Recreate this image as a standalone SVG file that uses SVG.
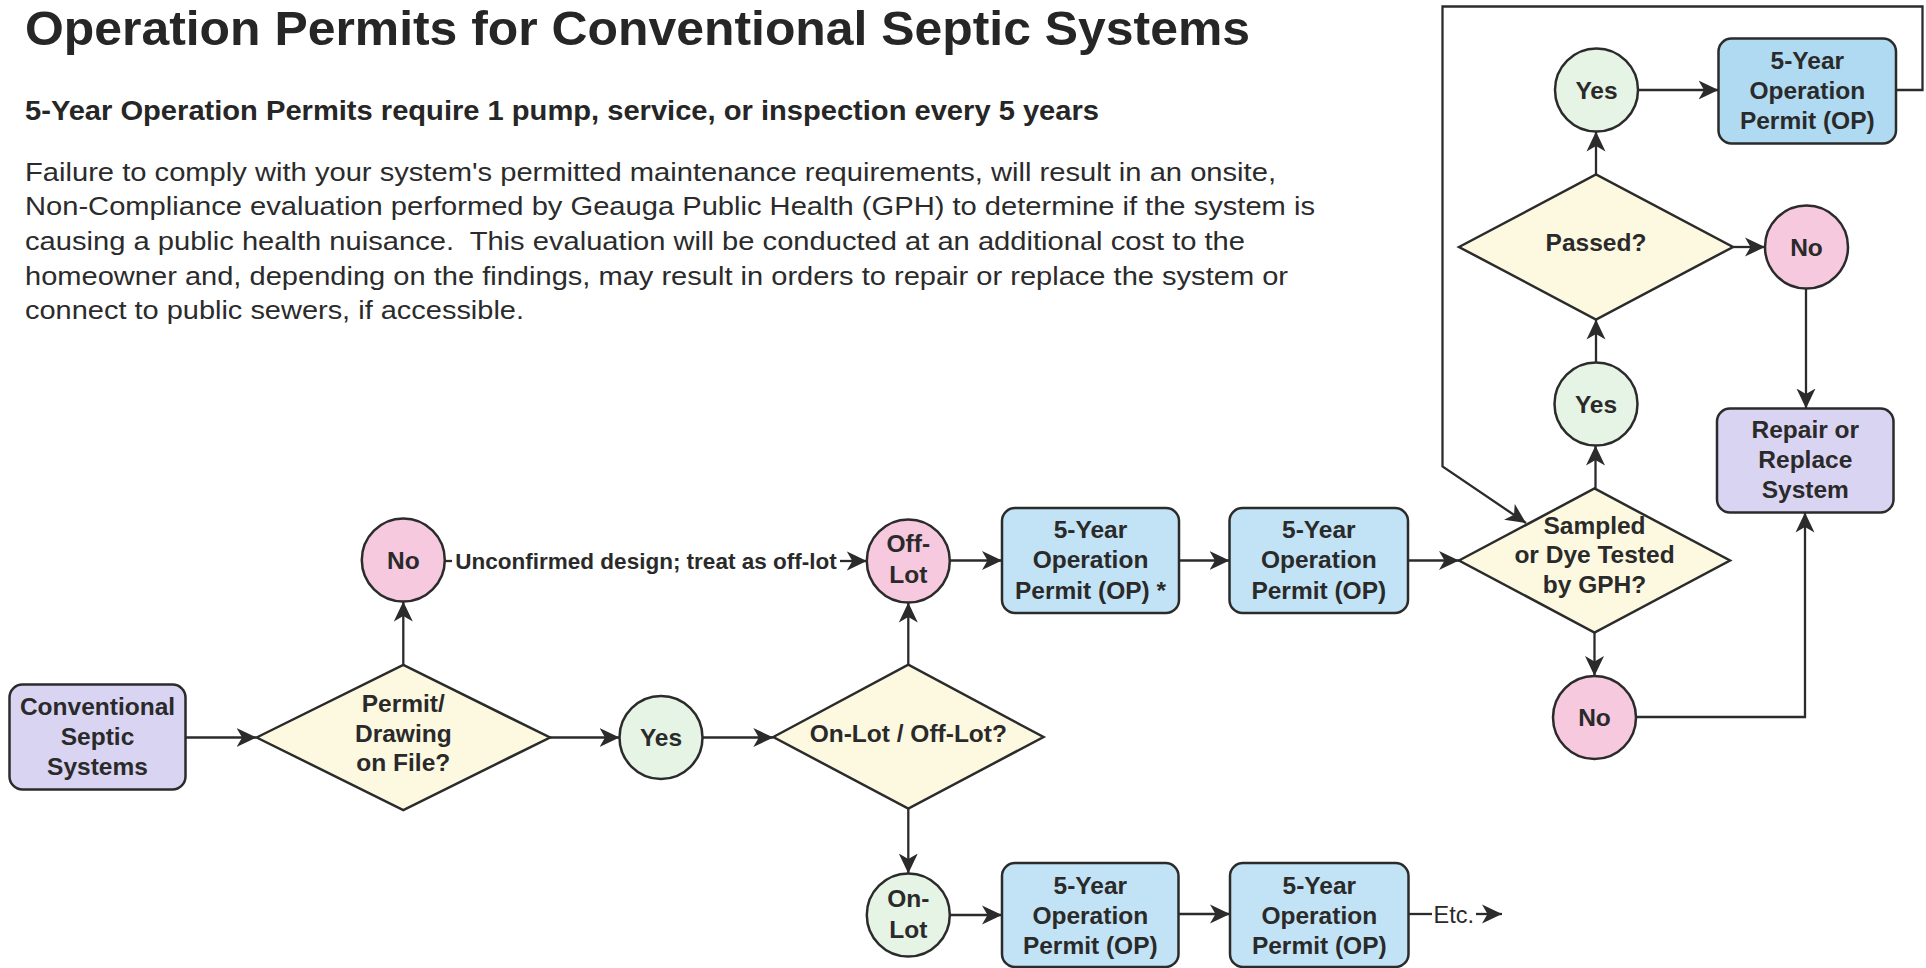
<svg xmlns="http://www.w3.org/2000/svg" width="1926" height="968" viewBox="0 0 1926 968">
<style>
  .bg{fill:#ffffff}
  .h1{font-family:"Liberation Sans",Arial,sans-serif;font-weight:bold;fill:#262626}
  .p{font-family:"Liberation Sans",Arial,sans-serif;font-size:26px;fill:#2b2b2b}
  .t{font-family:"Liberation Sans",Arial,sans-serif;font-weight:bold;font-size:24.5px;fill:#2a2a2a;text-anchor:middle}
  .lbl{font-family:"Liberation Sans",Arial,sans-serif;font-weight:bold;font-size:22.5px;fill:#2a2a2a;text-anchor:middle}
  .etc{font-family:"Liberation Sans",Arial,sans-serif;font-size:23.5px;fill:#2a2a2a}
  .purple{fill:#dad4f3;stroke:#2b2b2b;stroke-width:2.5}
  .blue{fill:#c2e3f5;stroke:#2b2b2b;stroke-width:2.5}
  .blue2{fill:#afdaf1;stroke:#2b2b2b;stroke-width:2.5}
  .dia{fill:#fdf9e1;stroke:#2b2b2b;stroke-width:2.5}
  .yes{fill:#e6f4e5;stroke:#2b2b2b;stroke-width:2.5}
  .no{fill:#f6c9de;stroke:#2b2b2b;stroke-width:2.5}
  .con{fill:none;stroke:#2b2b2b;stroke-width:2.3}
</style>
<defs>
  <marker id="arr" markerUnits="userSpaceOnUse" markerWidth="20" markerHeight="20" viewBox="0 0 20 20" refX="20" refY="10" orient="auto">
    <path d="M0,0.5 L20,10 L0,19.5 L5.5,10 Z" fill="#2b2b2b"/>
  </marker>
</defs>
<rect class="bg" x="0" y="0" width="1926" height="968"/>

<g id="header">
  <text class="h1" x="25" y="45" font-size="47.5" textLength="1225" lengthAdjust="spacingAndGlyphs">Operation Permits for Conventional Septic Systems</text>
  <text class="h1" x="25" y="120" font-size="27" textLength="1074" lengthAdjust="spacingAndGlyphs">5-Year Operation Permits require 1 pump, service, or inspection every 5 years</text>
  <text class="p" x="25" y="181" textLength="1251" lengthAdjust="spacingAndGlyphs">Failure to comply with your system's permitted maintenance requirements, will result in an onsite,</text>
  <text class="p" x="25" y="215" textLength="1290" lengthAdjust="spacingAndGlyphs">Non-Compliance evaluation performed by Geauga Public Health (GPH) to determine if the system is</text>
  <text class="p" x="25" y="249.5" textLength="1220" lengthAdjust="spacingAndGlyphs" xml:space="preserve">causing a public health nuisance.  This evaluation will be conducted at an additional cost to the</text>
  <text class="p" x="25" y="284.5" textLength="1263" lengthAdjust="spacingAndGlyphs">homeowner and, depending on the findings, may result in orders to repair or replace the system or</text>
  <text class="p" x="25" y="319" textLength="499" lengthAdjust="spacingAndGlyphs">connect to public sewers, if accessible.</text>
</g>

<g id="connectors">
  <path class="con" d="M185.5,737.5 H256.6" marker-end="url(#arr)"/>
  <path class="con" d="M403.3,665 V601.5" marker-end="url(#arr)"/>
  <path class="con" d="M550,737.5 H619.5" marker-end="url(#arr)"/>
  <path class="con" d="M702.5,737.5 H773.3" marker-end="url(#arr)"/>
  <path class="con" d="M444.8,561 H452"/>
  <path class="con" d="M840,561 H866.8" marker-end="url(#arr)"/>
  <text class="lbl" x="646" y="569">Unconfirmed design; treat as off-lot</text>
  <path class="con" d="M908.3,664.7 V602.5" marker-end="url(#arr)"/>
  <path class="con" d="M908.3,808.7 V873.5" marker-end="url(#arr)"/>
  <path class="con" d="M949.8,560.5 H1002" marker-end="url(#arr)"/>
  <path class="con" d="M1179,560.5 H1229.5" marker-end="url(#arr)"/>
  <path class="con" d="M1408,560.5 H1459" marker-end="url(#arr)"/>
  <path class="con" d="M949.8,915 H1002" marker-end="url(#arr)"/>
  <path class="con" d="M1178.5,914 H1230" marker-end="url(#arr)"/>
  <path class="con" d="M1408.5,914 H1432"/>
  <text class="etc" x="1433.5" y="922.5">Etc.</text>
  <path class="con" d="M1476,914 H1502" marker-end="url(#arr)"/>
  <path class="con" d="M1595.5,488.5 V445.5" marker-end="url(#arr)"/>
  <path class="con" d="M1594.5,632.5 V676" marker-end="url(#arr)"/>
  <path class="con" d="M1596,362.5 V319.5" marker-end="url(#arr)"/>
  <path class="con" d="M1596,174.5 V131.5" marker-end="url(#arr)"/>
  <path class="con" d="M1638,90 H1718.5" marker-end="url(#arr)"/>
  <path class="con" d="M1733,247 H1765" marker-end="url(#arr)"/>
  <path class="con" d="M1806,288.5 V408.5" marker-end="url(#arr)"/>
  <path class="con" d="M1636,717 H1805 V512.5" marker-end="url(#arr)"/>
  <path class="con" d="M1896,90 H1922.5 V6.5 H1442.5 V466.5 L1526,523" marker-end="url(#arr)"/>
</g>

<g id="n-conventional">
  <rect class="purple" x="9.5" y="684.5" width="176" height="105" rx="13"/>
  <text class="t" x="97.5" y="715">Conventional</text>
  <text class="t" x="97.5" y="745">Septic</text>
  <text class="t" x="97.5" y="775">Systems</text>
</g>

<g id="n-permit-on-file">
  <polygon class="dia" points="256.6,737.5 403.3,665 550,737.5 403.3,810"/>
  <text class="t" x="403.3" y="711.5">Permit/</text>
  <text class="t" x="403.3" y="741.5">Drawing</text>
  <text class="t" x="403.3" y="771">on File?</text>
</g>

<g id="n-no-1">
  <circle class="no" cx="403.3" cy="560" r="41.5"/>
  <text class="t" x="403.3" y="568.5">No</text>
</g>

<g id="n-yes-1">
  <circle class="yes" cx="661" cy="737.5" r="41.5"/>
  <text class="t" x="661" y="746">Yes</text>
</g>

<g id="n-on-off-lot">
  <polygon class="dia" points="773.3,737 908.3,664.7 1043.5,737 908.3,808.7"/>
  <text class="t" x="908.3" y="741.5">On-Lot / Off-Lot?</text>
</g>

<g id="n-off-lot">
  <circle class="no" cx="908.3" cy="561" r="41.5"/>
  <text class="t" x="908.3" y="552">Off-</text>
  <text class="t" x="908.3" y="583">Lot</text>
</g>

<g id="n-on-lot">
  <circle class="yes" cx="908.3" cy="915" r="41.5"/>
  <text class="t" x="908.3" y="906.5">On-</text>
  <text class="t" x="908.3" y="938">Lot</text>
</g>

<g id="n-op-off-1">
  <rect class="blue" x="1002" y="508" width="177" height="105" rx="13"/>
  <text class="t" x="1090.5" y="538">5-Year</text>
  <text class="t" x="1090.5" y="568">Operation</text>
  <text class="t" x="1090.5" y="598.5">Permit (OP) *</text>
</g>

<g id="n-op-off-2">
  <rect class="blue" x="1229.5" y="508" width="178.5" height="105" rx="13"/>
  <text class="t" x="1318.8" y="538">5-Year</text>
  <text class="t" x="1318.8" y="568">Operation</text>
  <text class="t" x="1318.8" y="598.5">Permit (OP)</text>
</g>

<g id="n-op-on-1">
  <rect class="blue" x="1002" y="863" width="176.5" height="104" rx="13"/>
  <text class="t" x="1090.3" y="893.5">5-Year</text>
  <text class="t" x="1090.3" y="923.5">Operation</text>
  <text class="t" x="1090.3" y="953.5">Permit (OP)</text>
</g>

<g id="n-op-on-2">
  <rect class="blue" x="1230" y="863" width="178.5" height="104" rx="13"/>
  <text class="t" x="1319.3" y="893.5">5-Year</text>
  <text class="t" x="1319.3" y="923.5">Operation</text>
  <text class="t" x="1319.3" y="953.5">Permit (OP)</text>
</g>

<g id="n-sampled">
  <polygon class="dia" points="1459,560.5 1594.5,488.5 1730,560.5 1594.5,632.5"/>
  <text class="t" x="1594.5" y="533.5">Sampled</text>
  <text class="t" x="1594.5" y="563">or Dye Tested</text>
  <text class="t" x="1594.5" y="592.5">by GPH?</text>
</g>

<g id="n-no-bottom">
  <circle class="no" cx="1594.5" cy="717.5" r="41.5"/>
  <text class="t" x="1594.5" y="726">No</text>
</g>

<g id="n-yes-mid">
  <circle class="yes" cx="1596" cy="404" r="41.5"/>
  <text class="t" x="1596" y="412.5">Yes</text>
</g>

<g id="n-passed">
  <polygon class="dia" points="1459,247 1596,174.5 1733,247 1596,319.5"/>
  <text class="t" x="1596" y="251">Passed?</text>
</g>

<g id="n-yes-top">
  <circle class="yes" cx="1596.5" cy="90" r="41.5"/>
  <text class="t" x="1596.5" y="98.5">Yes</text>
</g>

<g id="n-op-top">
  <rect class="blue2" x="1718.5" y="38.5" width="177.5" height="105" rx="13"/>
  <text class="t" x="1807.3" y="69">5-Year</text>
  <text class="t" x="1807.3" y="99">Operation</text>
  <text class="t" x="1807.3" y="129">Permit (OP)</text>
</g>

<g id="n-no-right">
  <circle class="no" cx="1806.5" cy="247" r="41.5"/>
  <text class="t" x="1806.5" y="255.5">No</text>
</g>

<g id="n-repair">
  <rect class="purple" x="1717" y="408.5" width="176.5" height="104" rx="13"/>
  <text class="t" x="1805.3" y="438">Repair or</text>
  <text class="t" x="1805.3" y="468">Replace</text>
  <text class="t" x="1805.3" y="498">System</text>
</g>
</svg>
